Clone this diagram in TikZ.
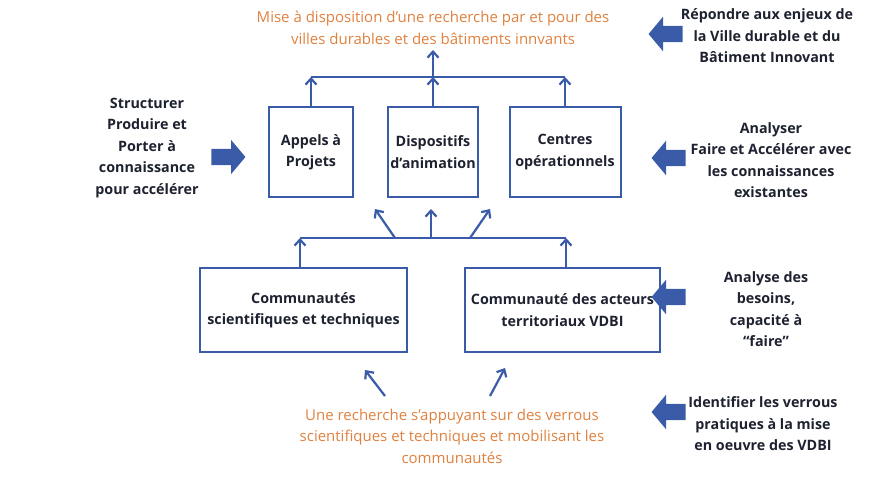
\documentclass[tikz,border=0pt]{standalone}
\usepackage{fontspec}
\setmainfont{Open Sans}
\usetikzlibrary{arrows.meta, positioning, shapes.arrows}
\definecolor{bleu}{HTML}{3A5CA8}
\definecolor{orange}{HTML}{E0813F}
\definecolor{encre}{HTML}{1E2230}
\newcommand\taille{\fontsize{14.3}{21.5}\selectfont}
\tikzset{
  box/.style={draw=bleu, line width=2pt, align=center, font=\taille\bfseries, text=encre, inner sep=0pt},
  lien/.style={draw=bleu, line width=2.2pt, -{Straight Barb[length=6pt, width=11pt, line width=2.2pt]}},
  bus/.style={draw=bleu, line width=2.2pt},
  note/.style={align=center, font=\taille\bfseries, text=encre},
  but/.style={align=center, text=orange, font=\fontsize{15}{21.5}\selectfont},
  fleche/.style={single arrow, fill=bleu, minimum height=34pt, inner xsep=0pt, inner ysep=8pt, single arrow head extend=9pt, single arrow tip angle=100}
}
\begin{document}
\begin{tikzpicture}[x=1pt, y=-1pt]
  \useasboundingbox (0,0) rectangle (880,480);
  % boites du haut
  \node[box, minimum width=84pt, minimum height=90pt] (appels) at (311,152) {Appels à\\Projets};
  \node[box, minimum width=90pt, minimum height=90pt] (dispo) at (433,152) {Dispositifs\\d’animation};
  \node[box, minimum width=111pt, minimum height=90pt] (centres) at (565,152) {Centres\\opérationnels};
  % boites du bas
  \node[box, minimum width=207pt, minimum height=84pt] (scient) at (303.5,310) {Communautés\\scientifiques et techniques};
  \node[box, minimum width=195pt, minimum height=84pt] (territ) at (562.5,310) {Communauté des acteurs\\territoriaux VDBI};
  % textes orange
  \node[but] (mise) at (433,28) {Mise à disposition d’une recherche par et pour des\\villes durables et des bâtiments innvants};
  \node[but] (recherche) at (452,436) {Une recherche s’appuyant sur des verrous\\scientifiques et techniques et mobilisant les\\communautés};
  % notes laterales
  \node[note] (structurer) at (147,148) {Structurer\\Produire et\\Porter à\\connaissance\\pour accélérer};
  \node[note] (repondre) at (767,36) {Répondre aux enjeux de\\la Ville durable et du\\Bâtiment Innovant};
  \node[note] (analyser) at (771,160) {Analyser\\Faire et Accélérer avec\\les connaissances\\existantes};
  \node[note] (besoins) at (766,309) {Analyse des\\besoins,\\capacité à\\“faire”};
  \node[note] (verrous) at (763,424) {Identifier les verrous\\pratiques à la mise\\en oeuvre des VDBI};
  % grosses fleches
  \node[fleche] (f1) at (225,157) {};
  \node[fleche, shape border rotate=180] (f2) at (669,34) {};
  \node[fleche, shape border rotate=180] (f3) at (672,158) {};
  \node[fleche, shape border rotate=180] (f4) at (672,297) {};
  \node[fleche, shape border rotate=180] (f5) at (672,412) {};
  % bus du haut
  \coordinate (b1) at (appels.north |- 0,77);
  \coordinate (b3) at (centres.north |- 0,77);
  \coordinate (bm) at (433,77);
  \coordinate (sortie) at (433,50);
  \draw[bus] (b1) -- (b3);
  \draw[lien] (appels.north) -- (b1);
  \draw[lien] (dispo.north) -- (bm);
  \draw[lien] (centres.north) -- (b3);
  \draw[lien] (bm) -- (sortie);
  % bus du bas
  \coordinate (c1) at (300,238);
  \coordinate (c2) at (566,238);
  \coordinate (d1) at (395,238);
  \coordinate (d2) at (431,238);
  \coordinate (d3) at (470,238);
  \draw[bus] (c1) -- (c2);
  \draw[lien] (scient.north -| c1) -- (c1);
  \draw[lien] (territ.north -| c2) -- (c2);
  \coordinate (e1) at (375,209);
  \coordinate (e2) at (431,209);
  \coordinate (e3) at (490,209);
  \draw[lien] (d1) -- (e1);
  \draw[lien] (d2) -- (e2);
  \draw[lien] (d3) -- (e3);
  % fleches depuis la recherche
  \coordinate (r1) at (385,396);
  \coordinate (r2) at (490,396);
  \coordinate (s1) at (365,370);
  \coordinate (s2) at (505,368);
  \draw[lien] (r1) -- (s1);
  \draw[lien] (r2) -- (s2);
\end{tikzpicture}
\end{document}
